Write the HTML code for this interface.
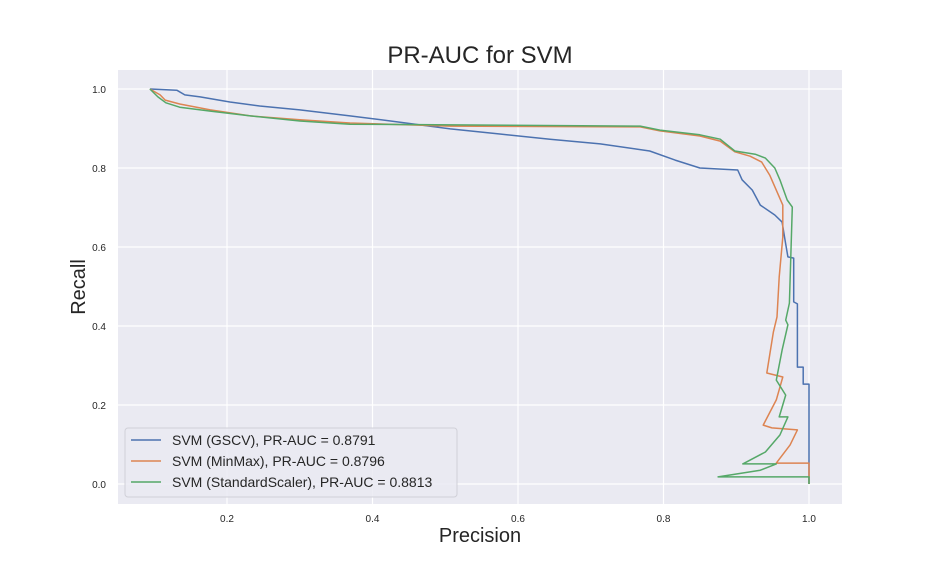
<!DOCTYPE html>
<html><head><meta charset="utf-8"><style>
body{margin:0;background:#fff;font-family:"Liberation Sans",sans-serif}
svg text{font-family:"Liberation Sans",sans-serif}
</style></head><body>
<svg id="chart" width="936" height="576">
<rect x="118" y="70" width="724" height="434" fill="#eaeaf2"/>
<g id="grid"></g>
<g id="series"></g>
<g id="ticks"></g>
<text x="480" y="63" font-size="24" text-anchor="middle" fill="#262626">PR-AUC for SVM</text>
<text x="480" y="542" font-size="20" text-anchor="middle" fill="#262626">Precision</text>
<text x="85" y="287" font-size="20" text-anchor="middle" fill="#262626" transform="rotate(-90 85 287)">Recall</text>
<g>
<rect x="125" y="428" width="332" height="69" rx="3" fill="#eaeaf2" fill-opacity="0.85" stroke="#d0d0d8"/>
<g id="legend-items"></g>
</g>
</svg>
<script>
const xTicks=[0.2,0.4,0.6,0.8,1.0];
const yTicks=[0.0,0.2,0.4,0.6,0.8,1.0];
const seriesNames=["SVM (GSCV), PR-AUC = 0.8791","SVM (MinMax), PR-AUC = 0.8796","SVM (StandardScaler), PR-AUC = 0.8813"];
const gscvP=[0.094,0.131,0.142,0.163,0.204,0.245,0.300,0.369,0.438,0.507,0.575,0.644,0.713,0.781,0.816,0.850,0.902,0.908,0.922,0.933,0.953,0.963,0.967,0.971,0.979,0.979,0.984,0.984,0.992,0.992,1.0,1.0];
const gscvR=[1.0,0.997,0.985,0.980,0.967,0.957,0.947,0.932,0.916,0.899,0.886,0.873,0.861,0.843,0.820,0.800,0.795,0.770,0.744,0.706,0.681,0.663,0.618,0.575,0.572,0.461,0.456,0.296,0.296,0.253,0.253,0.0];
const minmaxP=[0.094,0.108,0.115,0.135,0.177,0.232,0.300,0.369,0.507,0.768,0.795,0.850,0.878,0.898,0.919,0.935,0.946,0.964,0.964,0.959,0.956,0.951,0.942,0.964,0.955,0.937,0.949,0.984,0.974,0.955,1.0,1.0];
const minmaxR=[1.0,0.985,0.972,0.962,0.947,0.932,0.922,0.914,0.906,0.904,0.894,0.881,0.868,0.841,0.830,0.815,0.782,0.706,0.625,0.524,0.423,0.385,0.281,0.271,0.213,0.149,0.142,0.137,0.099,0.053,0.053,0.0];
const stdP=[0.094,0.105,0.116,0.135,0.177,0.232,0.300,0.369,0.768,0.795,0.850,0.878,0.898,0.926,0.940,0.953,0.960,0.970,0.977,0.973,0.968,0.971,0.963,0.955,0.968,0.959,0.971,0.960,0.940,0.909,0.955,0.933,0.875,1.0,1.0];
const stdR=[1.0,0.980,0.965,0.954,0.944,0.932,0.919,0.911,0.906,0.896,0.884,0.873,0.843,0.835,0.825,0.800,0.770,0.719,0.701,0.458,0.415,0.403,0.339,0.263,0.225,0.170,0.170,0.124,0.081,0.051,0.051,0.035,0.018,0.018,0.0];
const colors=["#4c72b0","#dd8452","#55a868"];
const NS="http://www.w3.org/2000/svg";
function xs(v){return 227+(v-0.2)*727.5;}
function ys(v){return 484-v*395;}
function mk(t,a,p){const e=document.createElementNS(NS,t);for(const k in a)e.setAttribute(k,a[k]);p.appendChild(e);return e;}
const grid=document.getElementById('grid'),ticks=document.getElementById('ticks');
xTicks.forEach(v=>{
 const l=mk('line',{x1:xs(v),x2:xs(v),y1:70,y2:504,stroke:'#fff','stroke-width':1.2},grid);
 
 
 const t=mk('text',{x:xs(v),y:522,'font-size':10,'text-anchor':'middle',fill:'#262626'},ticks);
 t.textContent=v.toFixed(1);
 
 
});
yTicks.forEach(v=>{
 const l=mk('line',{x1:118,x2:842,y1:ys(v),y2:ys(v),stroke:'#fff','stroke-width':1.2},grid);
 
 
 const t=mk('text',{x:106,y:ys(v)+4,'font-size':10,'text-anchor':'end',fill:'#262626'},ticks);
 t.textContent=v.toFixed(1);
 
 
});
const sg=document.getElementById('series');
[[gscvP,gscvR,'gscv-curve'],[minmaxP,minmaxR,'minmax-curve'],[stdP,stdR,'standardscaler-curve']].forEach((s,i)=>{
 const pts=s[0].map((p,j)=>xs(p).toFixed(1)+','+ys(s[1][j]).toFixed(1)).join(' ');
 const pl=mk('polyline',{points:pts,fill:'none',stroke:colors[i],'stroke-width':1.5,'stroke-linejoin':'round'},sg);
 
 
});
const lg=document.getElementById('legend-items');
seriesNames.forEach((n,i)=>{
 const y=440+i*21;
 const l=mk('line',{x1:131,x2:161,y1:y,y2:y,stroke:colors[i],'stroke-width':1.5},lg);
 
 
 const t=mk('text',{x:172,y:y+5,'font-size':14,fill:'#262626'},lg);
 t.textContent=n;
 
 
});
</script>
</body></html>
